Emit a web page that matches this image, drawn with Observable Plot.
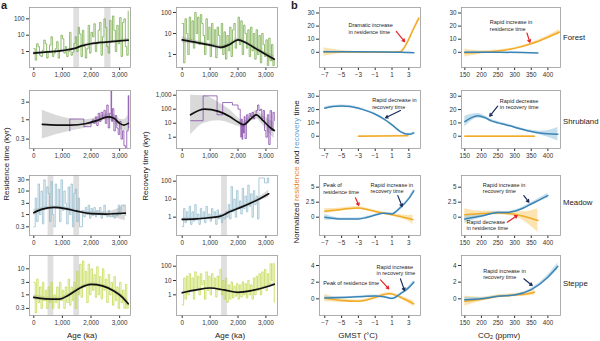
<!DOCTYPE html>
<html><head><meta charset="utf-8">
<script src="https://cdn.jsdelivr.net/npm/d3@7"></script>
<script src="https://cdn.jsdelivr.net/npm/@observablehq/plot@0.6"></script>
<style>
body{margin:0;background:#fff;}
#c{position:relative;width:600px;height:341px;overflow:hidden;font-family:"Liberation Sans",Arial,sans-serif;color:#222;}
.lab{position:absolute;font-size:8px;white-space:nowrap;line-height:1;}
.rot{transform:translate(-50%,-50%) rotate(-90deg);}
.ctr{transform:translate(-50%,-50%);}
</style></head><body><div id="c"></div>
<script>
// ---------- DATA ----------
const ages = [0,50,100,150,200,250,300,350,400,450,500,550,600,650,700,750,800,850,900,950,1000,1050,1100,1150,1200,1250,1300,1350,1400,1450,1500,1550,1600,1650,1700,1750,1800,1850,1900,1950,2000,2050,2100,2150,2200,2250,2300,2350,2400,2450,2500,2550,2600,2650,2700,2750,2800,2850,2900,2950,3000,3050,3100,3150,3200,3250,3300];

const forestRes = [1.5,0.3,3,2,0.6,0.5,1.2,5,3,0.4, 1,2.5,8,0.5,0.8,1.5,4,0.4,1.2,10, 6,0.8,2,0.5,1,15,0.6,0.9,3,8, 1,30,12,0.5,20,2,0.4,1.5,40,0.8, 15,8,50,1,3,20,60,0.6,8,100, 30,2,0.8,80,4,150,20,1,40,3, 120,0.5,60,100,2,0.6,300];
const forestRec = [30,0.4,50,10,1,60,5,40,2,100, 10,60,3,80,30,8,1,50,5,20, 0.8,30,3,15,0.7,20,8,2,30,1, 12,0.6,8,1.5,20,0.8,15,30,2,5, 60,3,40,1,25,10,2,15,0.8,20, 1.5,10,0.6,15,1,8,0.4,10,3,0.8, 5,0.3,6,0.5,3,0.3,0.6];
const meadowRes = [0.3,5,0.5,20,1,10,0.4,30,2,15, 8,0.5,25,1,0.3,20,2,12,0.5,30, 1.5,10,3,0.4,15,1,20,0.3,8,12, 0.5,5,0.3,0.3,1.5,0.8,2,1,2.5,0.7, 1.8,0.9,2,0.8,1.5,1,2,0.7,1.2,2.5, 1,0.8,1.5,0.8,0.8,1.2,0.7,0.9,0.9,2.5, 1,2.5,2.5,2.5,0.9,null,null];
const meadowRec = [0.3,3,0.5,2,0.8,4,0.4,2,0.6,5, 0.7,1.5,0.4,3,0.9,2,0.5,4,0.8,1.5, 0.6,3,1,2,0.4,2.5,0.8,1.5,0.5,1, 0.8,2,1,5,0.8,50,2,10,1,30, 3,8,1.5,40,3,15,2,60,4,20, 1,30,5,15,0.8,150,150,150,150,80, 80,150,80,null,null,null,null];
const steppeRes = [3,0.2,4,0.5,2,0.3,3,0.6,1.5,0.3, 2,0.5,3,0.3,1,0.5,2,0.3,3,0.6, 1.5,0.3,2,0.5,4,0.4,2,0.6,3,0.3, 8,1,15,0.8,20,2,8,0.5,15,1, 10,1.5,6,0.8,12,1,5,0.7,10,1.5, 4,0.5,6,1,3,0.4,5,0.6,2,0.3, 3,0.5,1.5,0.3,2.5,0.3,0.5];
const steppeRec = [0.2,15,0.5,20,1,30,2,15,0.5,40, 3,20,1,30,5,10,0.5,40,2,20, 1,30,3,15,0.7,20,2,60,1,10, 0.5,15,0.3,5,0.5,8,0.6,4,0.8,6, 0.5,5,0.7,8,1,6,0.6,10,1,5, 0.5,15,1,20,2,30,1,40,3,60, 2,30,5,150,10,150,0.3];

const shrubResAge = [1250,1260,1750,2000,2050,2100,2150,2200,2250,2300,2350,2400,2450,2500,2550,2600,2650,2700,2720,2750,2800,2850,2900,2950,3000,3050,3100,3150,3200,3250,3300,3320];
const shrubResVal = [0.5,1.05,0.65,0.9,1.0,0.8,1.2,0.7,1.5,0.9,1.6,1.1,1.8,0.8,2.5,0.6,1.5,6,0.9,2,0.5,1.3,0.6,0.4,0.9,0.3,0.5,0.2,0.15,0.5,4.5,0.6];
const shrubRecAge = [300,750,1250,1450,1800,2000,2080,2100,2120,2150,2170,2200,2220,2250,2300,2350,2400,2450,2500,2550,2600,2650,2700,2750,2800,2850,2900,2950,3000,3050,3100,3150,3200,3250,3300];
const shrubRecVal = [15,900,40,300,200,100,10,1,20,0.7,8,2,30,0.8,40,15,50,30,60,20,40,80,200,80,100,20,80,3,1,40,0.3,80,3,60,15];

// smooth fits: [x, fit, lower, upper]
const forestResFit = [[0,0.8,0.6,1.0],[500,0.95,0.8,1.1],[1000,1.15,1.0,1.3],[1400,1.5,1.3,1.7],[1700,2.3,2.0,2.6],[2000,3.0,2.6,3.4],[2500,3.8,3.3,4.3],[3000,4.5,3.8,5.3],[3300,5.0,3.8,6.5]];
const forestRecFit = [[0,5,3.5,7],[500,3.8,3,4.6],[1000,2.8,2.3,3.3],[1400,2.2,1.8,2.7],[1700,3,2.5,3.6],[2000,5,4,6],[2300,3.5,2.9,4.2],[2700,1.7,1.4,2.1],[3000,1.0,0.8,1.3],[3300,0.6,0.4,0.9]];
const shrubResFit = [[300,0.75,0.3,1.8],[800,0.72,0.4,1.3],[1300,0.72,0.5,1.05],[1800,0.78,0.6,1.0],[2200,0.95,0.8,1.15],[2600,1.2,1.0,1.45],[2800,1.1,0.85,1.4],[3000,0.8,0.6,1.05],[3150,0.72,0.5,1.0],[3300,0.8,0.5,1.3]];
const shrubRecFit = [[300,40,1.5,1000],[800,100,10,900],[1300,70,15,300],[1700,30,10,90],[2000,12,6,25],[2200,8,5,13],[2450,20,12,35],[2650,40,20,80],[2900,15,7,35],[3100,6,2,18],[3300,3,0.8,12]];
const meadowResFit = [[0,1.2,0.9,1.6],[300,1.7,1.4,2.0],[700,2.0,1.7,2.3],[1100,1.8,1.5,2.1],[1500,1.4,1.2,1.6],[2000,1.1,0.95,1.3],[2500,1.05,0.85,1.3],[2900,1.1,0.7,1.7],[3200,1.15,0.55,2.6]];
const meadowRecFit = [[0,0.75,0.6,0.9],[500,0.8,0.7,0.9],[1000,0.95,0.85,1.05],[1350,1.1,1.0,1.25],[1700,2,1.7,2.4],[2100,3.5,3,4.1],[2500,6.5,5.5,7.8],[2800,11,8.5,14],[3100,20,13,32]];
const steppeResFit = [[0,0.8,0.65,1],[400,0.7,0.58,0.85],[900,0.68,0.57,0.8],[1200,0.95,0.8,1.1],[1600,1.8,1.55,2.1],[2000,2.5,2.2,2.85],[2400,2.2,1.9,2.5],[2800,1.4,1.2,1.65],[3100,0.8,0.65,1.0],[3300,0.45,0.33,0.6]];
const steppeRecFit = [[0,1.4,1.1,1.7],[500,2.2,1.9,2.5],[1000,3.0,2.6,3.4],[1500,2.2,1.9,2.5],[2000,1.5,1.3,1.7],[2500,2.0,1.75,2.3],[3000,3.5,3,4.2],[3300,5.5,4.2,7.5]];

// shaded intervals (ka)
const forestResShade = [[1400,1600],[2480,2700]];
const meadowResShade = [[500,700],[1400,1600]];
const meadowRecShade = [[1410,1620]];
const steppeResShade = [[500,700],[1400,1600]];
const steppeRecShade = [[1410,1620]];

// panel b: [x, fit, lower, upper]
const forestGmstRes = [[-7.1,0.3,-3,3.5],[-5,0.2,-1,1.4],[-3,0.1,-0.4,0.6],[-1,0,-0.3,0.3],[1,0.1,-0.2,0.4],[2,0.5,0.1,0.9],[2.5,4,3.3,4.7],[3,10,9.2,10.8],[3.5,17,16,18],[4.2,26,24.5,27.5]];
const forestGmstRec = [[-7.1,0.5,0,1],[-3,0.4,0.1,0.7],[0,0.3,0,0.6],[2,0.1,-0.2,0.4],[3.6,-0.3,-0.7,0.1]];
const forestCo2Res = [[150,-0.5,-3.5,2.5],[200,0,-1.2,1.2],[250,1,0.3,1.7],[300,3,2.3,3.7],[350,6.5,5.7,7.3],[400,11.5,10.3,12.7],[435,15.5,13.5,17.5]];
const forestCo2Rec = [[150,0,-0.8,0.8],[250,0,-0.3,0.3],[370,-0.5,-0.9,-0.1]];
const shrubGmstRes = [[-3,0,-0.5,0.5],[2.9,0.3,-0.2,0.8]];
const shrubGmstRec = [[-7,21,20,22],[-6,22.3,21.6,23],[-5,22.7,22,23.4],[-4,22.3,21.6,23],[-3,21,20.3,21.7],[-2,19,18.3,19.7],[-1,16.5,15.8,17.2],[0,13,12.3,13.7],[1,8.5,7.8,9.2],[2,3.5,2.8,4.2],[2.7,1.6,0.9,2.3],[3.2,1.5,0.7,2.3],[3.6,2.5,1.5,3.5]];
const shrubCo2Res = [[150,0,-0.6,0.6],[360,0,-0.6,0.6]];
const shrubCo2Rec = [[150,11,7,15],[170,14,11.5,16.5],[190,15.3,13.5,17],[210,14,12.8,15.2],[230,11.5,10.5,12.5],[250,10,9,11],[275,8.5,7.6,9.4],[300,6.8,6,7.6],[325,5,4.2,5.8],[350,3.5,2.6,4.4],[375,2.5,1.2,3.8],[400,1.8,-0.7,4.3],[430,1.5,-3.5,6.5]];
const meadowGmstRes = [[-7,1.0,0.6,1.4],[-5,1.3,1.05,1.55],[-3,1.55,1.3,1.8],[-2,1.3,1.1,1.5],[-1,0.95,0.75,1.15],[0,0.65,0.45,0.85],[1,0.4,0.2,0.6],[2,0.1,-0.2,0.4],[3,-0.2,-0.7,0.3],[3.5,-0.4,-1.2,0.4]];
const meadowGmstRec = [[-7,0,-0.5,0.5],[-5,-0.3,-0.45,-0.15],[-3,-0.3,-0.45,-0.15],[-2,-0.05,-0.2,0.1],[-1,0.35,0.2,0.5],[0,0.65,0.5,0.8],[1,0.55,0.4,0.7],[2,1.6,1.45,1.75],[3,3.1,2.9,3.3],[3.6,4.4,4.1,4.7]];
const meadowCo2Res = [[150,0.4,-0.6,1.4],[200,0.6,0.2,1.0],[250,0.7,0.4,1.0],[300,0.5,0.1,0.9],[330,0.1,-0.7,0.9],[370,-0.55,-2.5,1.4]];
const meadowCo2Rec = [[150,-0.3,-1,0.4],[200,0.2,-0.1,0.5],[250,0.8,0.6,1.0],[280,0.8,0.65,0.95],[300,1.0,0.85,1.15],[325,1.5,1.3,1.7],[350,2.2,1.95,2.45],[375,2.9,2.6,3.2],[400,3.6,3.2,4.0]];
const steppeGmstRes = [[-7,0.1,-0.35,0.55],[-5,-0.2,-0.4,0],[-3,-0.3,-0.45,-0.15],[-1,0.15,0,0.3],[0,0.5,0.35,0.65],[0.7,0.6,0.45,0.75],[1.5,0.4,0.25,0.55],[2.5,-0.05,-0.25,0.15],[3.6,-0.6,-0.95,-0.25]];
const steppeGmstRec = [[-7,0.1,-0.1,0.3],[-5,0.15,0.05,0.25],[-3,0.25,0.15,0.35],[-1,0.35,0.25,0.45],[0,0.25,0.15,0.35],[1,0.05,-0.05,0.15],[2,0.6,0.5,0.7],[3,1.35,1.2,1.5],[3.6,2.0,1.8,2.2]];
const steppeCo2Res = [[150,-0.3,-0.9,0.3],[200,-0.05,-0.3,0.2],[250,0.3,0.1,0.5],[300,0.45,0.25,0.65],[330,0.55,0.3,0.8],[360,0.8,0.45,1.15]];
const steppeCo2Rec = [[150,-0.1,-0.4,0.2],[200,0,-0.15,0.15],[250,0.3,0.2,0.4],[300,0.45,0.35,0.55],[350,1.1,0.95,1.25],[400,2.6,2.35,2.85],[430,3.9,3.5,4.3]];

// annotations (data coordinates)
const notes = {
  b1: {t:[{x:-4.18,y:18.3,s:"Dramatic increase\nin residence time"}], a:[{x1:1.5,y1:16,x2:2.5,y2:8.1,k:"res"}]},
  b2: {t:[{x:225.3,y:20.5,s:"Rapid increase in\nresidence time"}], a:[{x1:337,y1:14.7,x2:346,y2:7.6,k:"res"}]},
  b3: {t:[{x:-1.36,y:24.5,s:"Rapid decrease in\nrecovery time"}], a:[{x1:2.0,y1:19.3,x2:0.23,y2:13.8,k:"rec"}]},
  b4: {t:[{x:255.4,y:24,s:"Rapid decrease\nin recovery time"}], a:[{x1:249,y1:22.5,x2:225,y2:15,k:"rec"}]},
  b5: {t:[{x:-7.19,y:4.8,s:"Peak of\nresidence time"},{x:-1.56,y:4.9,s:"Rapid increase in\nrecovery time"}], a:[{x1:-3.35,y1:3.23,x2:-2.95,y2:1.95,k:"res"},{x1:1.69,y1:3.6,x2:2.21,y2:1.78,k:"rec"}]},
  b6: {t:[{x:204.2,y:4.9,s:"Rapid increase in\nrecovery time"},{x:155.1,y:-1.3,s:"Rapid decrease\nin residence time"}], a:[{x1:327.7,y1:3.6,x2:342.8,y2:2.5,k:"rec"},{x1:277.7,y1:-0.83,x2:307.8,y2:0.28,k:"res"}]},
  b7: {t:[{x:-7.19,y:1.87,s:"Peak of residence time"},{x:-0.85,y:3.48,s:"Rapid increase\nin recovery time"}], a:[{x1:-0.37,y1:2.28,x2:0.62,y2:1.2,k:"res"},{x1:2.0,y1:2.4,x2:2.49,y2:1.0,k:"rec"}]},
  b8: {t:[{x:205.4,y:3.0,s:"Rapid increase in\nrecovery time"}], a:[{x1:327.7,y1:2.4,x2:352.8,y2:1.6,k:"rec"}]}
};

const ageTicks = [0,1000,2000,3000];
const gmstTicks = [-7,-5,-3,-1,1,3];
const co2Ticks = [150,200,250,300,350,400];
const biomes = ["Forest","Shrubland","Meadow","Steppe"];

// ---------- LAYOUT ----------
const rowsL = [{top:7,h:60},{top:90,h:58},{top:175,h:60},{top:255,h:60}];
const colsL = [{left:29,w:101,dom:[-150,3380]},{left:176,w:101,dom:[-205,3415]},{left:319,w:101,dom:[-7.63,4.39]},{left:461,w:99,dom:[140,438]}];
const cRes="#f2ab28", cResBand="#f8d27e", cRec="#3b85b6", cRecBand="#9fc8df";
const cRed="#e3262b", cNavy="#1b2d5c";
const C = document.getElementById("c");
const fmtC = d3.format(",");
const FONT = "'Liberation Sans', Arial, sans-serif";

function place(r, c, cfg, marks) {
  const ml=30, mr=4, mt=4, mb=16;
  const R = rowsL[r], K = colsL[c];
  const svg = Plot.plot({
    width: K.w+ml+mr, height: R.h+mt+mb,
    marginLeft: ml, marginRight: mr, marginTop: mt, marginBottom: mb,
    style: {fontSize:"6.3px", fontFamily: FONT, color:"#333", background:"transparent", overflow:"visible"},
    x: {domain: K.dom, ticks: cfg.xTicks, tickFormat: cfg.xFmt, tickSize:3, tickPadding:2, label:null},
    y: {type: cfg.yType || "linear", domain: cfg.yDom, ticks: cfg.yTicks, tickFormat: cfg.yFmt, tickSize:3, tickPadding:2, label:null},
    marks: [...marks, Plot.frame({stroke:"#9a9a9a", strokeWidth:0.8})]
  });
  svg.style.position="absolute";
  svg.style.left=(K.left-ml)+"px";
  svg.style.top=(R.top-mt)+"px";
  C.appendChild(svg);
}

function aMarks(age, val, fit, shade, color) {
  const rows = age.map((a,i)=>({a, v: val[i]}));
  return [
    Plot.rect(shade, {x1:d=>d[0], x2:d=>d[1], fill:"#dcdcdc", fillOpacity:0.9}),
    Plot.areaY(fit, {x:d=>d[0], y1:d=>d[2], y2:d=>d[3], fill:"#c4c4c4", fillOpacity:0.65, curve:"monotone-x", clip:true}),
    Plot.line(rows, {x:"a", y:"v", stroke:color, strokeWidth:0.8, strokeOpacity:0.9, curve:"step-after", clip:true}),
    Plot.line(fit, {x:d=>d[0], y:d=>d[1], stroke:"#111", strokeWidth:1.7, curve:"monotone-x", clip:true})
  ];
}
function bMarks(res, rec, n) {
  return [
    Plot.areaY(res, {x:d=>d[0], y1:d=>d[2], y2:d=>d[3], fill:cResBand, fillOpacity:0.6, curve:"monotone-x", clip:true}),
    Plot.areaY(rec, {x:d=>d[0], y1:d=>d[2], y2:d=>d[3], fill:cRecBand, fillOpacity:0.6, curve:"monotone-x", clip:true}),
    Plot.line(res, {x:d=>d[0], y:d=>d[1], stroke:cRes, strokeWidth:1.5, curve:"monotone-x", clip:true}),
    Plot.line(rec, {x:d=>d[0], y:d=>d[1], stroke:cRec, strokeWidth:1.5, curve:"monotone-x", clip:true}),
    Plot.text(n.t, {x:"x", y:"y", text:"s", textAnchor:"start", fontSize:5.5, lineHeight:1.15, fill:"#222"}),
    Plot.arrow(n.a, {x1:"x1", y1:"y1", x2:"x2", y2:"y2", stroke:d=>d.k==="res"?cRed:cNavy, strokeWidth:1.2, headLength:3.5})
  ];
}

const aX = {xTicks: ageTicks, xFmt: fmtC};
// column a (residence)
place(0,0,{...aX, yType:"log", yDom:[0.106,495], yTicks:[1,10,100], yFmt:fmtC}, aMarks(ages, forestRes, forestResFit, forestResShade, "#6aa539"));
place(1,0,{...aX, yType:"log", yDom:[0.167,6.2], yTicks:[0.3,1,3], yFmt:fmtC}, aMarks(shrubResAge, shrubResVal, shrubResFit, [], "#7a3aa0"));
place(2,0,{...aX, yType:"log", yDom:[0.128,46], yTicks:[0.3,1,3,10,30], yFmt:fmtC}, aMarks(ages, meadowRes, meadowResFit, meadowResShade, "#8ab5c9"));
place(3,0,{...aX, yType:"log", yDom:[0.16,32.5], yTicks:[0.3,1,3,10], yFmt:fmtC}, aMarks(ages, steppeRes, steppeResFit, steppeResShade, "#bcd63c"));
// column a (recovery)
place(0,1,{...aX, yType:"log", yDom:[0.24,173], yTicks:[1,10,100], yFmt:fmtC}, aMarks(ages, forestRec, forestRecFit, [], "#6aa539"));
place(1,1,{...aX, yType:"log", yDom:[0.156,2170], yTicks:[1,10,100,1000], yFmt:fmtC}, aMarks(shrubRecAge, shrubRecVal, shrubRecFit, [], "#7a3aa0"));
place(2,1,{...aX, yType:"log", yDom:[0.096,207], yTicks:[1,10,100], yFmt:fmtC}, aMarks(ages, meadowRec, meadowRecFit, meadowRecShade, "#8ab5c9"));
place(3,1,{...aX, yType:"log", yDom:[0.036,560], yTicks:[1,10,100], yFmt:fmtC}, aMarks(ages, steppeRec, steppeRecFit, steppeRecShade, "#bcd63c"));
// column b
const gX = {xTicks: gmstTicks}, cX = {xTicks: co2Ticks};
const y30 = {yDom:[-11.6,34.2], yTicks:[0,10,20,30]};
const y30b = {yDom:[-9.2,34.3], yTicks:[0,10,20,30]};
const y5 = {yDom:[-3.05,6.95], yTicks:[0,2.5,5], yFmt:d3.format("")};
const y4 = {yDom:[-2,5.2], yTicks:[0,2,4]};
place(0,2,{...gX,...y30}, bMarks(forestGmstRes, forestGmstRec, notes.b1));
place(0,3,{...cX,...y30}, bMarks(forestCo2Res, forestCo2Rec, notes.b2));
place(1,2,{...gX,...y30b}, bMarks(shrubGmstRes, shrubGmstRec, notes.b3));
place(1,3,{...cX,...y30b}, bMarks(shrubCo2Res, shrubCo2Rec, notes.b4));
place(2,2,{...gX,...y5}, bMarks(meadowGmstRes, meadowGmstRec, notes.b5));
place(2,3,{...cX,...y5}, bMarks(meadowCo2Res, meadowCo2Rec, notes.b6));
place(3,2,{...gX,...y4}, bMarks(steppeGmstRes, steppeGmstRec, notes.b7));
place(3,3,{...cX,...y4}, bMarks(steppeCo2Res, steppeCo2Rec, notes.b8));

// ---------- TEXT LABELS ----------
function lab(html, x, y, cls, extra) {
  const d = document.createElement("div");
  d.className = "lab " + (cls||"");
  d.innerHTML = html;
  d.style.left = x+"px"; d.style.top = y+"px";
  if (extra) Object.assign(d.style, extra);
  C.appendChild(d);
}
lab("a", 1, 0, "", {fontSize:"11px", fontWeight:"bold"});
lab("b", 291, 0, "", {fontSize:"11px", fontWeight:"bold"});
lab("Residence time (kyr)", 7, 164, "rot");
lab("Recovery time (kyr)", 146, 166, "rot");
lab('Normalized <span style="color:#e8862a">residence</span> and <span style="color:#5ea3d3">recovery</span> time', 297, 172, "rot");
lab("Age (ka)", 82, 336, "ctr");
lab("Age (ka)", 230, 336, "ctr");
lab("GMST (°C)", 358, 336, "ctr");
lab("CO<sub style='font-size:5.5px;vertical-align:-1px'>2</sub> (ppmv)", 499, 336, "ctr");
const rowY = [38, 122, 203, 284];
biomes.forEach((b,i)=>lab(b, 563, rowY[i], "", {fontSize:"7.8px", transform:"translateY(-50%)"}));
</script></body></html>
